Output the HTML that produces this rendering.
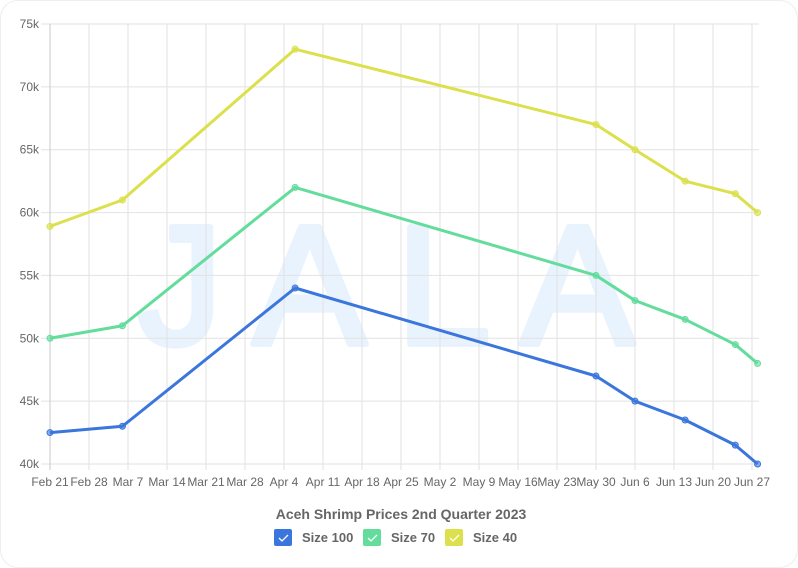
<!DOCTYPE html>
<html><head><meta charset="utf-8"><style>
body{margin:0;background:#fff;}
#card{position:absolute;left:0;top:0;width:796px;height:566px;border:1px solid #eee;border-radius:18px;background:#fff;overflow:hidden;}
text{font-family:"Liberation Sans",sans-serif;}
</style></head><body>
<div id="card">
<svg id="chart" width="798" height="568"></svg>
</div>
<script>
const dayOffsets=[0,13,44,98,105,114,123,127];
const size100=[42.5,43,54,47,45,43.5,41.5,40];
const size70=[50,51,62,55,53,51.5,49.5,48];
const size40=[58.9,61,73,67,65,62.5,61.5,60];
const xTickLabels=["Feb 21","Feb 28","Mar 7","Mar 14","Mar 21","Mar 28","Apr 4","Apr 11","Apr 18","Apr 25","May 2","May 9","May 16","May 23","May 30","Jun 6","Jun 13","Jun 20","Jun 27"];
const yTicks=[40,45,50,55,60,65,70,75];
const seriesNames=["Size 100","Size 70","Size 40"];
const colors=["#3a76dc","#63dc9c","#dbe04c"];

const NS="http://www.w3.org/2000/svg";
const svg=document.getElementById('chart');
const X0=49,DX=39/7,Y0=463,YT=23;
const x=d=>X0+d*DX;
const y=v=>Y0-(v-40)/35*(Y0-YT);
function mk(tag,attrs,parent){const e=document.createElementNS(NS,tag);for(const k in attrs)e.setAttribute(k,attrs[k]);(parent||svg).appendChild(e);return e;}

// watermark
const wm=mk('text',{x:400,y:343,'text-anchor':'middle','font-size':170,'font-weight':'normal',fill:'#e9f3fd',stroke:'#e9f3fd','stroke-width':6,'stroke-linejoin':'round','letter-spacing':30});


wm.textContent='JALA';

yTicks.forEach(v=>{
  const l=mk('line',{x1:40,x2:758,y1:y(v),y2:y(v),stroke:'#e2e2e2'});
  
  
  const t=mk('text',{x:38,y:y(v)+4,'text-anchor':'end','font-size':12,fill:'#666'});
  
  
  t.textContent=v+'k';
});
xTickLabels.forEach((s,i)=>{
  const xx=x(i*7);
  const l=mk('line',{x1:xx,x2:xx,y1:YT,y2:Y0+6,stroke:i===0?'#c8c8c8':'#e2e2e2'});
  
  
  const t=mk('text',{x:xx,y:485,'text-anchor':'middle','font-size':12,fill:'#666'});
  
  
  t.textContent=s;
});
[size100,size70,size40].forEach((arr,si)=>{
  const pts=arr.map((v,i)=>x(dayOffsets[i])+','+y(v)).join(' ');
  const pl=mk('polyline',{points:pts,fill:'none',stroke:colors[si],'stroke-width':3,'stroke-linejoin':'round'});
  
  
  arr.forEach((v,i)=>{
    const c=mk('circle',{cx:x(dayOffsets[i]),cy:y(v),r:3,fill:colors[si],stroke:colors[si],'fill-opacity':0.6});
    
    
  });
});
const title=mk('text',{x:400,y:518,'text-anchor':'middle','font-size':14,'font-weight':'bold',fill:'#666'});


title.textContent='Aceh Shrimp Prices 2nd Quarter 2023';
const lx=[273,362,444];
seriesNames.forEach((n,i)=>{
  const g=mk('g',{});
  
  
  mk('rect',{x:lx[i],y:528,width:18,height:17,rx:2,fill:colors[i]},g);
  mk('path',{d:`M${lx[i]+5} ${537} l3 3 l6 -6`,stroke:'#fff','stroke-width':1.3,fill:'none'},g);
  const t=mk('text',{x:lx[i]+28,y:541,'font-size':13,'font-weight':'bold',fill:'#666'},g);
  t.textContent=n;
});
</script>
</body></html>
